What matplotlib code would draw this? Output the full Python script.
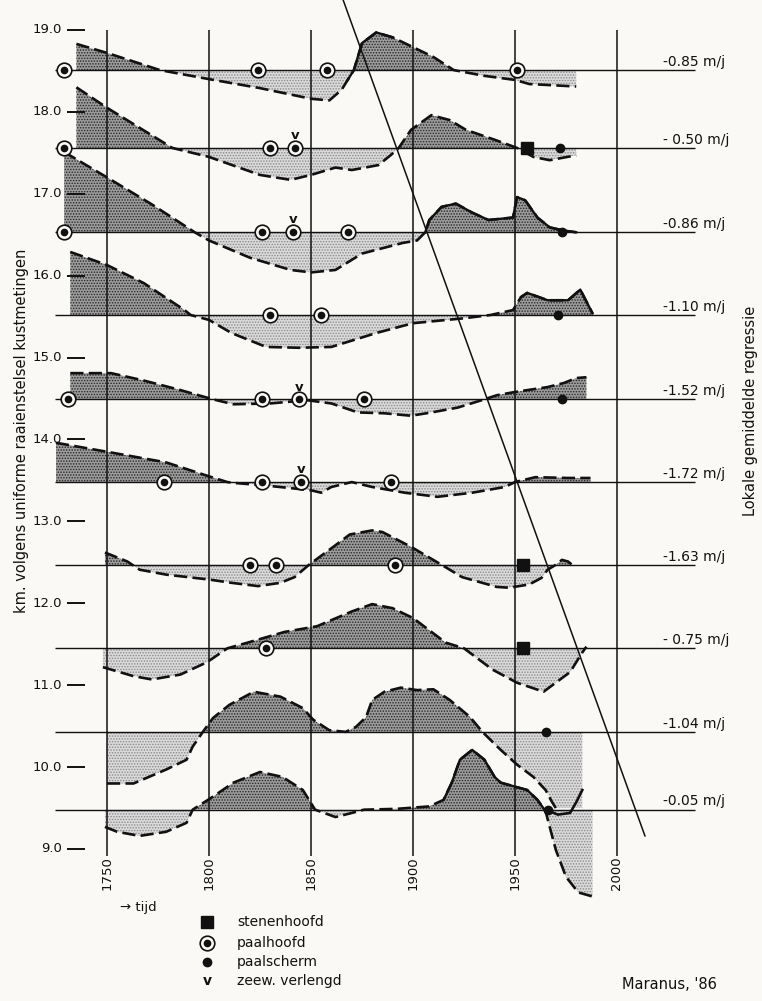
import numpy as np
import matplotlib
matplotlib.use("Agg")
import matplotlib.pyplot as plt

# ---------------- data ----------------
km_ticks = [19.0, 18.0, 17.0, 16.0, 15.0, 14.0, 13.0, 12.0, 11.0, 10.0, 9.0]
year_ticks = [1750, 1800, 1850, 1900, 1950, 2000]

baselines = [18.51, 17.56, 16.53, 15.52, 14.49, 13.48, 12.47, 11.45, 10.43, 9.48]
rates = ["-0.85 m/j", "- 0.50 m/j", "-0.86 m/j", "-1.10 m/j", "-1.52 m/j",
         "-1.72 m/j", "-1.63 m/j", "- 0.75 m/j", "-1.04 m/j", "-0.05 m/j"]

# coastline position relative to each baseline (km on the vertical scale)
r1_years = [1735, 1750, 1776, 1800, 1825, 1850, 1859, 1865, 1868, 1871, 1875, 1882, 1890, 1900, 1910, 1920, 1935, 1950, 1957, 1980]
r1_off = [0.32, 0.21, 0, -0.11, -0.22, -0.35, -0.37, -0.24, -0.12, 0, 0.33, 0.46, 0.40, 0.28, 0.16, 0, -0.07, -0.12, -0.17, -0.20]

r2_years = [1735, 1750, 1782, 1800, 1825, 1840, 1850, 1862, 1870, 1883, 1889, 1893, 1899, 1909, 1918, 1926, 1940, 1951, 1959, 1967, 1980]
r2_off = [0.74, 0.49, 0, -0.11, -0.33, -0.39, -0.33, -0.24, -0.27, -0.21, -0.09, 0, 0.22, 0.40, 0.34, 0.22, 0.10, 0, -0.11, -0.15, -0.09]

r3_years = [1729, 1750, 1772, 1793, 1800, 1820, 1840, 1850, 1862, 1875, 1895, 1902, 1906, 1908, 1914, 1921, 1929, 1937, 1949, 1951, 1955, 1961, 1967, 1974, 1980]
r3_off = [0.98, 0.67, 0.34, 0, -0.10, -0.31, -0.46, -0.49, -0.46, -0.26, -0.13, -0.10, 0, 0.15, 0.31, 0.35, 0.24, 0.15, 0.18, 0.43, 0.39, 0.18, 0.06, 0.02, 0]

r4_years = [1732, 1750, 1768, 1788, 1791, 1800, 1811, 1828, 1844, 1860, 1882, 1900, 1925, 1938, 1949, 1953, 1956, 1966, 1976, 1982, 1988]
r4_off = [0.77, 0.61, 0.39, 0.06, 0, -0.06, -0.22, -0.39, -0.40, -0.39, -0.22, -0.10, -0.04, 0, 0.06, 0.22, 0.27, 0.18, 0.18, 0.31, 0.02]

r5_years = [1732, 1752, 1768, 1785, 1802, 1812, 1830, 1848, 1860, 1873, 1886, 1899, 1909, 1922, 1935, 1941, 1950, 1966, 1974, 1980, 1985]
r5_off = [0.32, 0.32, 0.23, 0.12, 0, -0.06, -0.05, -0.01, -0.05, -0.16, -0.17, -0.20, -0.16, -0.10, 0, 0.05, 0.09, 0.15, 0.20, 0.26, 0.27]

r6_years = [1725, 1750, 1779, 1800, 1809, 1812, 1827, 1850, 1855, 1860, 1870, 1880, 1896, 1912, 1929, 1945, 1950, 1960, 1976, 1987]
r6_off = [0.48, 0.37, 0.24, 0.07, 0, -0.01, -0.04, -0.10, -0.13, -0.06, 0, -0.06, -0.13, -0.18, -0.13, -0.06, 0, 0.06, 0.05, 0.05]

r7_years = [1749, 1760, 1766, 1779, 1800, 1811, 1824, 1835, 1842, 1849, 1861, 1869, 1880, 1885, 1899, 1914, 1924, 1941, 1947, 1957, 1963, 1966, 1970, 1973, 1976, 1978]
r7_off = [0.15, 0.04, -0.06, -0.12, -0.18, -0.22, -0.26, -0.22, -0.15, 0, 0.22, 0.37, 0.42, 0.40, 0.22, 0, -0.15, -0.27, -0.28, -0.24, -0.16, -0.06, 0, 0.06, 0.04, 0]

r8_years = [1748, 1763, 1772, 1786, 1799, 1809, 1819, 1837, 1853, 1870, 1880, 1890, 1900, 1916, 1925, 1939, 1951, 1964, 1977, 1983, 1985]
r8_off = [-0.23, -0.34, -0.38, -0.32, -0.17, 0, 0.07, 0.20, 0.27, 0.45, 0.54, 0.49, 0.37, 0.07, 0, -0.26, -0.42, -0.53, -0.29, -0.05, 0.02]

r9_years = [1750, 1763, 1779, 1789, 1792, 1797, 1802, 1810, 1822, 1835, 1846, 1851, 1859, 1867, 1872, 1877, 1880, 1886, 1894, 1902, 1910, 1918, 1928, 1934, 1943, 1951, 1959, 1965, 1968, 1970, 1983]
r9_off = [-0.63, -0.63, -0.46, -0.34, -0.18, 0, 0.17, 0.33, 0.49, 0.43, 0.29, 0.15, 0.02, 0, 0.06, 0.18, 0.39, 0.49, 0.54, 0.51, 0.52, 0.39, 0.18, 0, -0.22, -0.40, -0.55, -0.71, -0.85, -0.93, -0.93]

r10_years = [1749, 1755, 1766, 1779, 1789, 1792, 1802, 1812, 1825, 1836, 1846, 1852, 1862, 1870, 1876, 1892, 1908, 1915, 1919, 1923, 1929, 1935, 1940, 1943, 1956, 1961, 1965, 1970, 1975, 1981, 1988, 1990]
r10_off = [-0.21, -0.27, -0.32, -0.27, -0.16, 0, 0.16, 0.33, 0.46, 0.40, 0.24, 0, -0.09, -0.04, 0, 0.01, 0.04, 0.12, 0.33, 0.61, 0.73, 0.61, 0.40, 0.33, 0.24, 0.12, -0.02, -0.49, -0.82, -1.01, -1.06, -1.06]

# short recent trace in the lowest row
r10b_years = [1967, 1971, 1977, 1980, 1983]
r10b_off = [-0.02, -0.06, -0.04, 0.09, 0.24]

curves = [(r1_years, r1_off), (r2_years, r2_off), (r3_years, r3_off), (r4_years, r4_off),
          (r5_years, r5_off), (r6_years, r6_off), (r7_years, r7_off), (r8_years, r8_off),
          (r9_years, r9_off), (r10_years, r10_off)]

# parts of the curves drawn as a full line instead of dashes
solid_parts = {0: (1866, 1896), 2: (1906, 1980), 3: (1950, 1988), 9: (1915, 1965)}
line_end = {8: 1970}
fill_end = {9: 1988}

# structures (row index, year)
square_rows = [1, 6, 7]
square_years = [1956, 1954, 1954]
ring_rows = [0, 0, 0, 0, 1, 1, 1, 2, 2, 2, 2, 3, 3, 4, 4, 4, 4, 5, 5, 5, 5, 6, 6, 6, 7]
ring_years = [1729, 1824, 1858, 1951, 1729, 1830, 1842, 1729, 1826, 1841, 1868, 1830, 1855,
              1731, 1826, 1844, 1876, 1778, 1826, 1845, 1889, 1820, 1833, 1891, 1828]
dot_rows = [1, 2, 3, 4, 8, 9]
dot_years = [1972, 1973, 1971, 1973, 1965, 1966]
v_rows = [1, 2, 4, 5]
v_years = [1842, 1841, 1844, 1845]

# regression trend line
trend_years = [1865.7, 2013.7]
trend_km = [19.37, 9.16]

legend_labels = ["stenenhoofd", "paalhoofd", "paalscherm", "zeew. verlengd"]

# ---------------- drawing ----------------
bg = "#faf9f5"
ink = "#111111"
plt.rcParams["font.family"] = ["DejaVu Sans"]
plt.rcParams["hatch.linewidth"] = 0.7
fig = plt.figure(figsize=(7.62, 10.01), dpi=100, facecolor=bg)
ax = fig.add_axes([0, 0, 1, 1])
ax.set_facecolor(bg)
ax.set_xlim(1697.55, 2071.08)
ax.set_ylim(7.144, 19.366)
ax.axis("off")

dark = dict(facecolor="#9c9c9c", hatch="......", edgecolor="#262626", linewidth=0, zorder=1)
light = dict(facecolor="#dadada", hatch="......", edgecolor="#8a8a8a", linewidth=0, zorder=1)

for i, (base, (yrs, off)) in enumerate(zip(baselines, curves)):
    yrs = np.array(yrs, float)
    off = np.array(off, float)
    f = yrs <= fill_end.get(i, yrs[-1])
    ax.fill_between(yrs[f], base, base + off[f], where=off[f] >= 0, interpolate=True, **dark)
    ax.fill_between(yrs[f], base, base + off[f], where=off[f] <= 0, interpolate=True, **light)
    m = yrs <= line_end.get(i, yrs[-1])
    ax.plot(yrs[m], base + off[m], color=ink, lw=1.9, dashes=(5, 2),
            solid_capstyle="round", zorder=3)
    if i in solid_parts:
        lo, hi = solid_parts[i]
        s = m & (yrs >= lo) & (yrs <= hi)
        ax.plot(yrs[s], base + off[s], color=ink, lw=1.7, zorder=3)

ax.plot(r10b_years, baselines[9] + np.array(r10b_off), color=ink, lw=1.9, zorder=3)

# grid, baselines, trend
ax.vlines(year_ticks, 8.92, 19.0, color=ink, lw=1.1, zorder=2)
ax.hlines(baselines, 1724.5, 2038, color=ink, lw=1.0, zorder=2)
ax.plot(trend_years, trend_km, color=ink, lw=1.1, zorder=3)

# km scale on the left
ax.hlines(km_ticks, 1730.5, 1739.2, color=ink, lw=1.4)
for k in km_ticks:
    ax.text(1728.0, k, f"{k:.1f}", ha="right", va="center", fontsize=9.5, color=ink)

for y in year_ticks:
    ax.text(y, 8.71, str(y), rotation=90, ha="center", va="center", fontsize=9.5, color=ink)

for base, r in zip(baselines, rates):
    ax.text(2022.5, base + 0.10, r, ha="left", va="center", fontsize=10, color=ink)

# markers
sq_y = [baselines[r] for r in square_rows]
ax.plot(square_years, sq_y, ls="none", marker="s", ms=8.5, color=ink, zorder=5)
ring_y = [baselines[r] for r in ring_rows]
ax.plot(ring_years, ring_y, ls="none", marker="o", ms=10.5, mfc=bg, mec=ink, mew=1.2, zorder=5)
ax.plot(ring_years, ring_y, ls="none", marker="o", ms=4.5, color=ink, zorder=6)
dot_y = [baselines[r] for r in dot_rows]
ax.plot(dot_years, dot_y, ls="none", marker="o", ms=6, color=ink, zorder=5)
for r, y in zip(v_rows, v_years):
    ax.text(y, baselines[r] + 0.15, "v", ha="center", va="center", fontsize=9.5,
            fontweight="bold", color=ink, zorder=6)

# axis titles
ax.text(1708.0, 14.1, "km. volgens uniforme raaienstelsel kustmetingen", rotation=90,
        ha="center", va="center", fontsize=10.5, color=ink)
ax.text(2065.5, 14.35, "Lokale gemiddelde regressie", rotation=90,
        ha="center", va="center", fontsize=10.5, color=ink)

# legend
ax.text(1756.4, 8.28, "\u2192 tijd", ha="left", va="center", fontsize=9.5, color=ink)
leg_x = 1799.0
leg_y = [8.11, 7.85, 7.62, 7.39]
ax.plot([leg_x], [leg_y[0]], marker="s", ms=9, color=ink, ls="none")
ax.plot([leg_x], [leg_y[1]], marker="o", ms=10.5, mfc=bg, mec=ink, mew=1.2, ls="none")
ax.plot([leg_x], [leg_y[1]], marker="o", ms=4.5, color=ink, ls="none")
ax.plot([leg_x], [leg_y[2]], marker="o", ms=6, color=ink, ls="none")
ax.text(leg_x, leg_y[3], "v", ha="center", va="center", fontsize=10, fontweight="bold", color=ink)
for lab, y in zip(legend_labels, leg_y):
    ax.text(1813.7, y, lab, ha="left", va="center", fontsize=10, color=ink)

ax.text(2002.5, 7.34, "Maranus, '86", ha="left", va="center", fontsize=10.5, color=ink)

fig.savefig("out.png", dpi=100, facecolor=bg)
